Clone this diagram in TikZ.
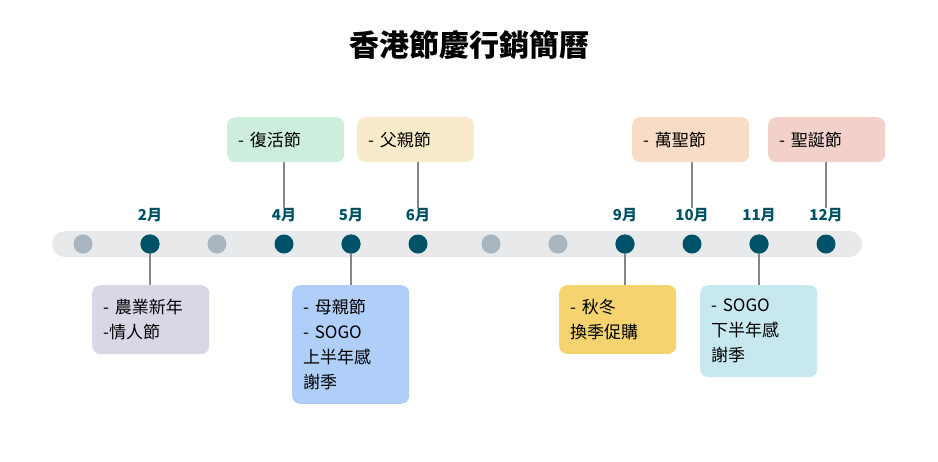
\documentclass[tikz,border=0pt]{standalone}
\usepackage{fontspec}
\setmainfont{Noto Sans CJK TC}
\usetikzlibrary{positioning}
\definecolor{bargray}{HTML}{E8E9EB}
\definecolor{dotlight}{HTML}{A9B5BF}
\definecolor{dotdark}{HTML}{005268}
\definecolor{linegray}{HTML}{7E8890}
\definecolor{cgreen}{HTML}{CDEEDD}
\definecolor{cbeige}{HTML}{F8EBCA}
\definecolor{cpeach}{HTML}{F9DCC5}
\definecolor{cpink}{HTML}{F2D1CB}
\definecolor{clav}{HTML}{D9D6E6}
\definecolor{cblue}{HTML}{AFCEF8}
\definecolor{cyellow}{HTML}{F5D470}
\definecolor{ccyan}{HTML}{C8E8F0}

\begin{document}
\begin{tikzpicture}[x=1pt, y=-1pt,
                event/.style={rounded corners=8pt, text width=95pt, inner xsep=11pt, inner ysep=14pt,
                              align=left, font=\fontsize{17}{25}\selectfont, anchor=north west},
                month/.style={font=\bfseries\fontsize{15}{18}\selectfont, text=dotdark},
                link/.style={draw=linegray, line width=1.5pt}
                ]
                \useasboundingbox (0,0) rectangle (938,461);

                % Title
                \node[font=\bfseries\fontsize{30}{34}\selectfont] (title) at (469,45) {香港節慶行銷簡曆};

                % Bar and dots
                \fill[bargray, rounded corners=13pt] (52,231) rectangle (862,257);
                \foreach \x/\c/\n in {83/dotlight/d1, 150/dotdark/d2, 217/dotlight/d3, 284/dotdark/d4,
                                      351/dotdark/d5, 418/dotdark/d6, 491/dotlight/d7, 558/dotlight/d8,
                                      625/dotdark/d9, 692/dotdark/d10, 759/dotdark/d11, 826/dotdark/d12}
                    \node[circle, fill=\c, minimum size=19pt, inner sep=0pt] (\n) at (\x,244) {};

                % Months
                \foreach \n/\m in {d2/2月, d4/4月, d5/5月, d6/6月, d9/9月, d10/10月, d11/11月, d12/12月}
                    \node[month, above=9pt of \n] (m\n) {\m};

                % Events above
                \node[event, fill=cgreen, minimum height=45pt, inner ysep=8pt] (easter) at (227,117) {- 復活節};
                \node[event, fill=cbeige, minimum height=45pt, inner ysep=8pt] (father) at (357,117) {- 父親節};
                \node[event, fill=cpeach, minimum height=45pt, inner ysep=8pt] (hallow) at (632,117) {- 萬聖節};
                \node[event, fill=cpink, minimum height=45pt, inner ysep=8pt] (xmas) at (768,117) {- 聖誕節};

                % Events below
                \node[event, fill=clav] (newyear) at (92,285) {- 農業新年\\-情人節};
                \node[event, fill=cblue] (mother) at (292,285) {- 母親節\\- SOGO\\上半年感\\謝季};
                \node[event, fill=cyellow] (autumn) at (559,285) {- 秋冬\\換季促購};
                \node[event, fill=ccyan] (sogo) at (700,285) {- SOGO\\下半年感\\謝季};

                % Links
                \foreach \e/\n in {easter/d4, father/d6, hallow/d10, xmas/d12}
                    \draw[link] (\e.south -| \n) -- ([yshift=-3pt]m\n.north);
                \foreach \e/\n in {newyear/d2, mother/d5, autumn/d9, sogo/d11}
                    \draw[link] (\n) -- (\e.north -| \n);
                \foreach \n in {d2, d5, d9, d11}
                    \node[circle, fill=dotdark, minimum size=19pt, inner sep=0pt] at (\n) {};
\end{tikzpicture}
\end{document}
